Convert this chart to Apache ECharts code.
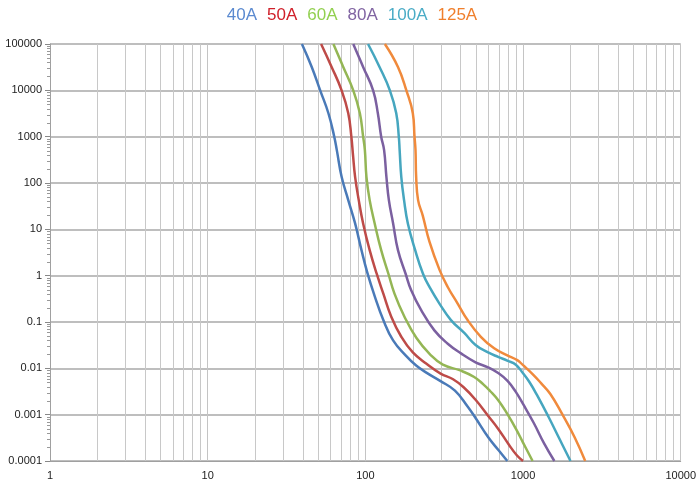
<!DOCTYPE html>
<html>
<head>
<meta charset="utf-8">
<script src="https://cdn.jsdelivr.net/npm/echarts@6/dist/echarts.min.js"></script>
<style>
  html, body { margin: 0; padding: 0; background: #fff; }
  #chart { width: 699px; height: 484px; }
</style>
</head>
<body>
<div id="chart"></div>
<script>
// 时间-电流特性曲线 [电流 A, 时间 s]
const curve40A = [[39.6,100000],[45.7,32000],[51.7,10000],[58.3,3200],[63.5,1000],[66,500],[70.7,136],[77.9,42.7],[86.1,13.4],[94.5,3.55],[103,1.15],[115,0.35],[130,0.11],[150,0.040],[180,0.019],[210,0.0115],[245,0.008],[300,0.0053],[370,0.0033],[445,0.0015],[500,0.00085],[600,0.00033],[700,0.00017],[795,0.0001]];
const curve50A = [[52.4,100000],[61.1,32000],[70.7,10000],[77.9,3200],[81.5,1000],[83.5,400],[86.1,136],[90.8,42.7],[96.8,13.4],[106.5,3.55],[118,1.1],[130,0.41],[146,0.13],[169,0.048],[200,0.022],[243,0.0127],[300,0.0077],[360,0.0058],[420,0.0039],[500,0.0021],[600,0.00095],[700,0.00048],[810,0.00023],[910,0.000135],[1000,0.0001]];
const curve60A = [[62.7,100000],[72.4,32000],[83.8,10000],[92.3,3200],[96.8,1000],[99.3,514],[101.6,136],[106.5,42.7],[114.6,13.4],[126,3.55],[140,1.1],[153,0.41],[177,0.13],[211,0.045],[257,0.02],[310,0.012],[400,0.009],[490,0.0065],[560,0.0045],[620,0.0032],[700,0.002],[800,0.001],[900,0.0005],[1000,0.00025],[1150,0.0001]];
const curve80A = [[83.8,100000],[96.8,32000],[112,10000],[120,3200],[126,1000],[131.5,514],[136,136],[141,42.7],[150,13.4],[161,3.55],[180,1.1],[195,0.49],[226,0.18],[274,0.066],[333,0.034],[404,0.021],[500,0.0135],[600,0.0105],[700,0.0078],[800,0.0053],[900,0.0031],[1000,0.0017],[1170,0.00066],[1360,0.00024],[1580,0.0001]];
const curve100A = [[104,100000],[123,32000],[143,10000],[157,3200],[163,1000],[165,514],[169,136],[176,42.7],[186,13.4],[207,3.55],[232,1.1],[255,0.57],[295,0.25],[349,0.11],[424,0.058],[500,0.032],[600,0.022],[700,0.0175],[800,0.0145],[900,0.012],[1000,0.0078],[1100,0.005],[1230,0.0026],[1450,0.0009],[1720,0.00028],[2000,0.0001]];
const curve125A = [[133,100000],[161,32000],[182,10000],[200,3200],[205,1000],[208,514],[210,136],[216,42.7],[231,20],[255,5.4],[295,1.35],[333,0.57],[385,0.25],[445,0.11],[540,0.048],[656,0.027],[795,0.019],[920,0.015],[1000,0.0117],[1150,0.0075],[1300,0.0048],[1490,0.0028],[1780,0.001],[2120,0.00033],[2480,0.0001]];

const seriesNames = ['40A', '50A', '60A', '80A', '100A', '125A'];
const lineColors = ['#4a7ab8', '#be4b48', '#94b655', '#7b60a0', '#46a6bf', '#f08a3c'];
const legendColors = ['#5b8ad0', '#d0202a', '#92d050', '#8064a2', '#4bacc6', '#f07f2c'];

const xTickLabels = ['1', '10', '100', '1000', '10000'];
const yTickLabels = ['0.0001', '0.001', '0.01', '0.1', '1', '10', '100', '1000', '10000', '100000'];

// 对数次刻度 2..9
const xMinorValues = [];
[1, 10, 100, 1000].forEach(d => { for (let k = 2; k <= 9; k++) xMinorValues.push(d * k); });
const yMinorValues = [];
[0.0001, 0.001, 0.01, 0.1, 1, 10, 100, 1000, 10000].forEach(d => { for (let k = 2; k <= 9; k++) yMinorValues.push(+(d * k).toPrecision(3)); });

const chart = echarts.init(document.getElementById('chart'));

const guideData = xMinorValues.map(v => [v, 1, 0]).concat(yMinorValues.map(v => [1, v, 1]));

const option = {
  animation: false,
  legend: {
    top: 2,
    left: 'center',
    icon: 'none',
    itemWidth: 0,
    itemHeight: 0,
    itemGap: 5,
    textStyle: { fontSize: 17, fontFamily: 'Liberation Sans, Arial, sans-serif' },
    data: seriesNames.map((n, i) => ({ name: n, textStyle: { color: legendColors[i] } }))
  },
  grid: { left: 50, right: 14, top: 44, bottom: 23, containLabel: false },
  xAxis: {
    type: 'log',
    logBase: 10,
    min: 1,
    max: 10000,
    interval: 1,
    axisLine: { lineStyle: { color: '#a0a0a0', width: 1 } },
    axisTick: { show: false },
    axisLabel: {
      color: '#222',
      fontSize: 11,
      fontFamily: 'Liberation Sans, sans-serif',
      margin: 9,
      formatter: v => xTickLabels[Math.round(Math.log10(v))]
    },
    splitLine: { show: true, lineStyle: { color: '#c4c4c4', width: 1 } }
  },
  yAxis: {
    type: 'log',
    logBase: 10,
    min: 0.0001,
    max: 100000,
    interval: 1,
    axisLine: { show: true, lineStyle: { color: '#a0a0a0', width: 1 } },
    axisTick: { show: true, length: 5, lineStyle: { color: '#888' } },
    axisLabel: {
      color: '#222',
      fontSize: 11,
      fontFamily: 'Liberation Sans, sans-serif',
      margin: 8,
      formatter: v => yTickLabels[Math.round(Math.log10(v)) + 4]
    },
    splitLine: { show: true, lineStyle: { color: '#a8a8a8', width: 1.5 } }
  },
  series: [
    {
      type: 'custom',
      name: 'guides',
      silent: true,
      z: 1,
      data: guideData,
      renderItem: (params, api) => {
        const a = api.value(0), b = api.value(1), kind = api.value(2);
        if (kind === 0) {
          const p1 = api.coord([a, 100000]);
          const p2 = api.coord([a, 0.0001]);
          const x = Math.round(p1[0]) + 0.5;
          return { type: 'line', shape: { x1: x, y1: p1[1], x2: x, y2: p2[1] }, style: { stroke: '#c8c8c8', lineWidth: 1 } };
        }
        const p = api.coord([1, b]);
        const y = Math.round(p[1]) + 0.5;
        return { type: 'line', shape: { x1: p[0] - 3, y1: y, x2: p[0], y2: y }, style: { stroke: '#999', lineWidth: 1 } };
      }
    }
  ].concat([curve40A, curve50A, curve60A, curve80A, curve100A, curve125A].map((d, i) => ({
    name: seriesNames[i],
    type: 'line',
    data: d,
    smooth: 0.45,
    symbol: 'none',
    z: 3,
    lineStyle: { color: lineColors[i], width: 2.5 },
    itemStyle: { color: lineColors[i] }
  })))
};

chart.setOption(option);
</script>
</body>
</html>
